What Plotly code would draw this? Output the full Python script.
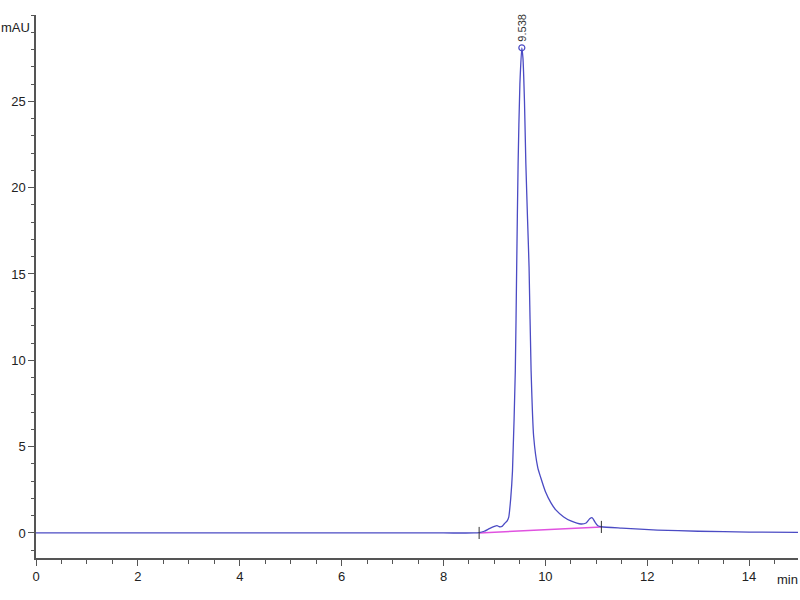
import plotly.graph_objects as go

# Chromatogram (time in min, absorbance in mAU)
time_min = [0.0, 2.0, 4.0, 6.0, 8.0, 8.6, 8.7, 8.8, 8.9, 9.0, 9.05, 9.1, 9.15, 9.2, 9.25,
            9.28, 9.32, 9.355, 9.41, 9.437, 9.465, 9.50, 9.538, 9.56, 9.59, 9.617, 9.65,
            9.68, 9.72, 9.77, 9.85, 9.91, 10.0, 10.11, 10.2, 10.36, 10.5, 10.7, 10.8,
            10.87, 10.92, 10.97, 11.03, 11.1, 11.5, 12.2, 13.0, 14.0, 14.96]
absorb_mau = [0.0, 0.0, 0.0, 0.0, 0.0, 0.0, 0.02, 0.1, 0.25, 0.38, 0.42, 0.36, 0.38, 0.55, 0.7,
              0.9, 2.0, 3.6, 9.4, 15.4, 21.4, 26.0, 28.1, 27.5, 25.0, 21.4, 18.2,
              15.4, 9.4, 5.6, 3.8, 3.2, 2.4, 1.74, 1.35, 0.93, 0.70, 0.52, 0.58,
              0.82, 0.88, 0.65, 0.42, 0.36, 0.28, 0.17, 0.10, 0.05, 0.03]

# Integration baseline for the main peak
base_t = [8.7, 11.1]
base_y = [0.0, 0.35]

peak_rt = [9.538]
peak_h = [28.1]
peak_lbl = ["9.538"]

x_ticks = [0, 2, 4, 6, 8, 10, 12, 14]
y_ticks = [0, 5, 10, 15, 20, 25]

line_col = "#4b4bc4"
base_col = "#e052e0"
axis_col = "#555555"
font_fam = "Liberation Sans Narrow, Liberation Sans, Arial"

fig = go.Figure()
fig.add_trace(go.Scatter(x=base_t, y=base_y, mode="lines",
                         line=dict(color=base_col, width=1.5), hoverinfo="skip"))
fig.add_trace(go.Scatter(x=time_min, y=absorb_mau, mode="lines",
                         line=dict(color=line_col, width=1.3, shape="spline", smoothing=0.6)))
# integration markers (small vertical ticks at start/end)
for t, yb in zip(base_t, base_y):
    fig.add_trace(go.Scatter(x=[t, t], y=[yb - 0.35, yb + 0.35], mode="lines",
                             line=dict(color="#333333", width=1), hoverinfo="skip"))
fig.add_trace(go.Scatter(x=peak_rt, y=peak_h, mode="markers",
                         marker=dict(symbol="circle-open", size=6, color=line_col, line=dict(width=1.2))))

for t, h, s in zip(peak_rt, peak_h, peak_lbl):
    fig.add_annotation(x=t, y=h, text=s, showarrow=False, textangle=-90,
                       yanchor="bottom", xanchor="center", yshift=4,
                       font=dict(family=font_fam, size=11, color="#333333"))

fig.add_annotation(xref="paper", yref="paper", x=-0.005, y=1.0, text="mAU", showarrow=False,
                   xanchor="right", yanchor="top", yshift=-3,
                   font=dict(family=font_fam, size=13, color="#222222"))
fig.add_annotation(xref="paper", yref="paper", x=1.0, y=0, text="min", showarrow=False,
                   xanchor="right", yanchor="top", yshift=-12, xshift=2,
                   font=dict(family=font_fam, size=13, color="#222222"))

fig.update_layout(
    width=800, height=600,
    margin=dict(l=36, r=2, t=15, b=42),
    paper_bgcolor="white", plot_bgcolor="white",
    showlegend=False,
    font=dict(family=font_fam, size=13, color="#222222"),
)
fig.update_xaxes(range=[0, 14.96], tickvals=x_ticks, showgrid=False, zeroline=False,
                 showline=True, linecolor=axis_col, linewidth=1.5, automargin=False,
                 ticks="outside", ticklen=6, tickcolor=axis_col,
                 minor=dict(dtick=0.5, ticks="outside", ticklen=4, tickcolor=axis_col))
fig.update_yaxes(range=[-1.45, 30.0], tickvals=y_ticks, showgrid=False, zeroline=False,
                 showline=True, linecolor=axis_col, linewidth=1.5, automargin=False,
                 ticks="outside", ticklen=6, tickcolor=axis_col,
                 minor=dict(dtick=1, ticks="outside", ticklen=3, tickcolor=axis_col))

fig.write_html("out.html", config={"displayModeBar": False},
               post_script="document.body.style.margin='0';")
